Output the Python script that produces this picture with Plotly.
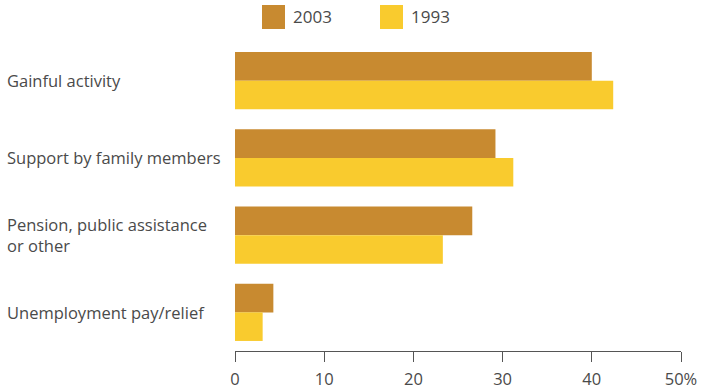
import plotly.graph_objects as go

categories = ["Gainful activity", "Support by family members",
              "Pension, public assistance<br>or other", "Unemployment pay/relief"]
share_2003 = [40.0, 29.2, 26.6, 4.3]
share_1993 = [42.4, 31.2, 23.3, 3.1]
tick_vals = [0, 10, 20, 30, 40, 50]
tick_text = ["0", "10", "20", "30", "40", "50%"]

C2003 = "#C88A30"
C1993 = "#F9CB2E"
TXT = "#4a4a4a"
FONT = "Open Sans"

L, R = 235, 710 - 681
fig = go.Figure()
fig.add_trace(go.Bar(y=list(range(len(categories))), x=share_2003, orientation="h",
                     marker=dict(color=C2003, line=dict(width=0)), name="2003"))
fig.add_trace(go.Bar(y=list(range(len(categories))), x=share_1993, orientation="h",
                     marker=dict(color=C1993, line=dict(width=0)), name="1993"))

fig.update_layout(
    width=710, height=392,
    margin=dict(l=L, r=R, t=42, b=392 - 351),
    paper_bgcolor="white", plot_bgcolor="white",
    barmode="group", bargap=0.26, bargroupgap=0,
    showlegend=False,
    font=dict(family=FONT, color=TXT, size=15),
    xaxis=dict(range=[0, 50], tickvals=tick_vals, ticktext=tick_text,
               showgrid=False, zeroline=False, showline=True, linecolor="#555",
               linewidth=1, ticks="outside", ticklen=10, tickcolor="#555",
               ticklabelstandoff=3, automargin=False,
               tickfont=dict(size=16.5, color=TXT), side="bottom", fixedrange=True),
    yaxis=dict(range=[len(categories) - 0.5, -0.5], showticklabels=False,
               showgrid=False, zeroline=False, showline=False, fixedrange=True,
               automargin=False),
)

plot_w = 710 - L - R
def px_to_paper(px):
    return (px - L) / plot_w

# category labels, left aligned
for i, c in enumerate(categories):
    fig.add_annotation(x=px_to_paper(5), xref="paper", y=i, yref="y", text=c,
                       showarrow=False, xanchor="left", yanchor="middle", align="left",
                       font=dict(size=16.5, color=TXT, family=FONT))

# legend swatches and labels
for x0, col, lab in [(262, C2003, "2003"), (380, C1993, "1993")]:
    fig.add_shape(type="rect", xref="paper", yref="paper",
                  x0=px_to_paper(x0), x1=px_to_paper(x0 + 23),
                  y0=1 + (42 - 29) / 309, y1=1 + (42 - 5) / 309,
                  fillcolor=col, line=dict(width=0))
    fig.add_annotation(x=px_to_paper(x0 + 29), xref="paper", y=1 + (42 - 17) / 309,
                       yref="paper", text=lab, showarrow=False, xanchor="left",
                       yanchor="middle", font=dict(size=17, color=TXT, family=FONT))

fig.write_html("out.html")
